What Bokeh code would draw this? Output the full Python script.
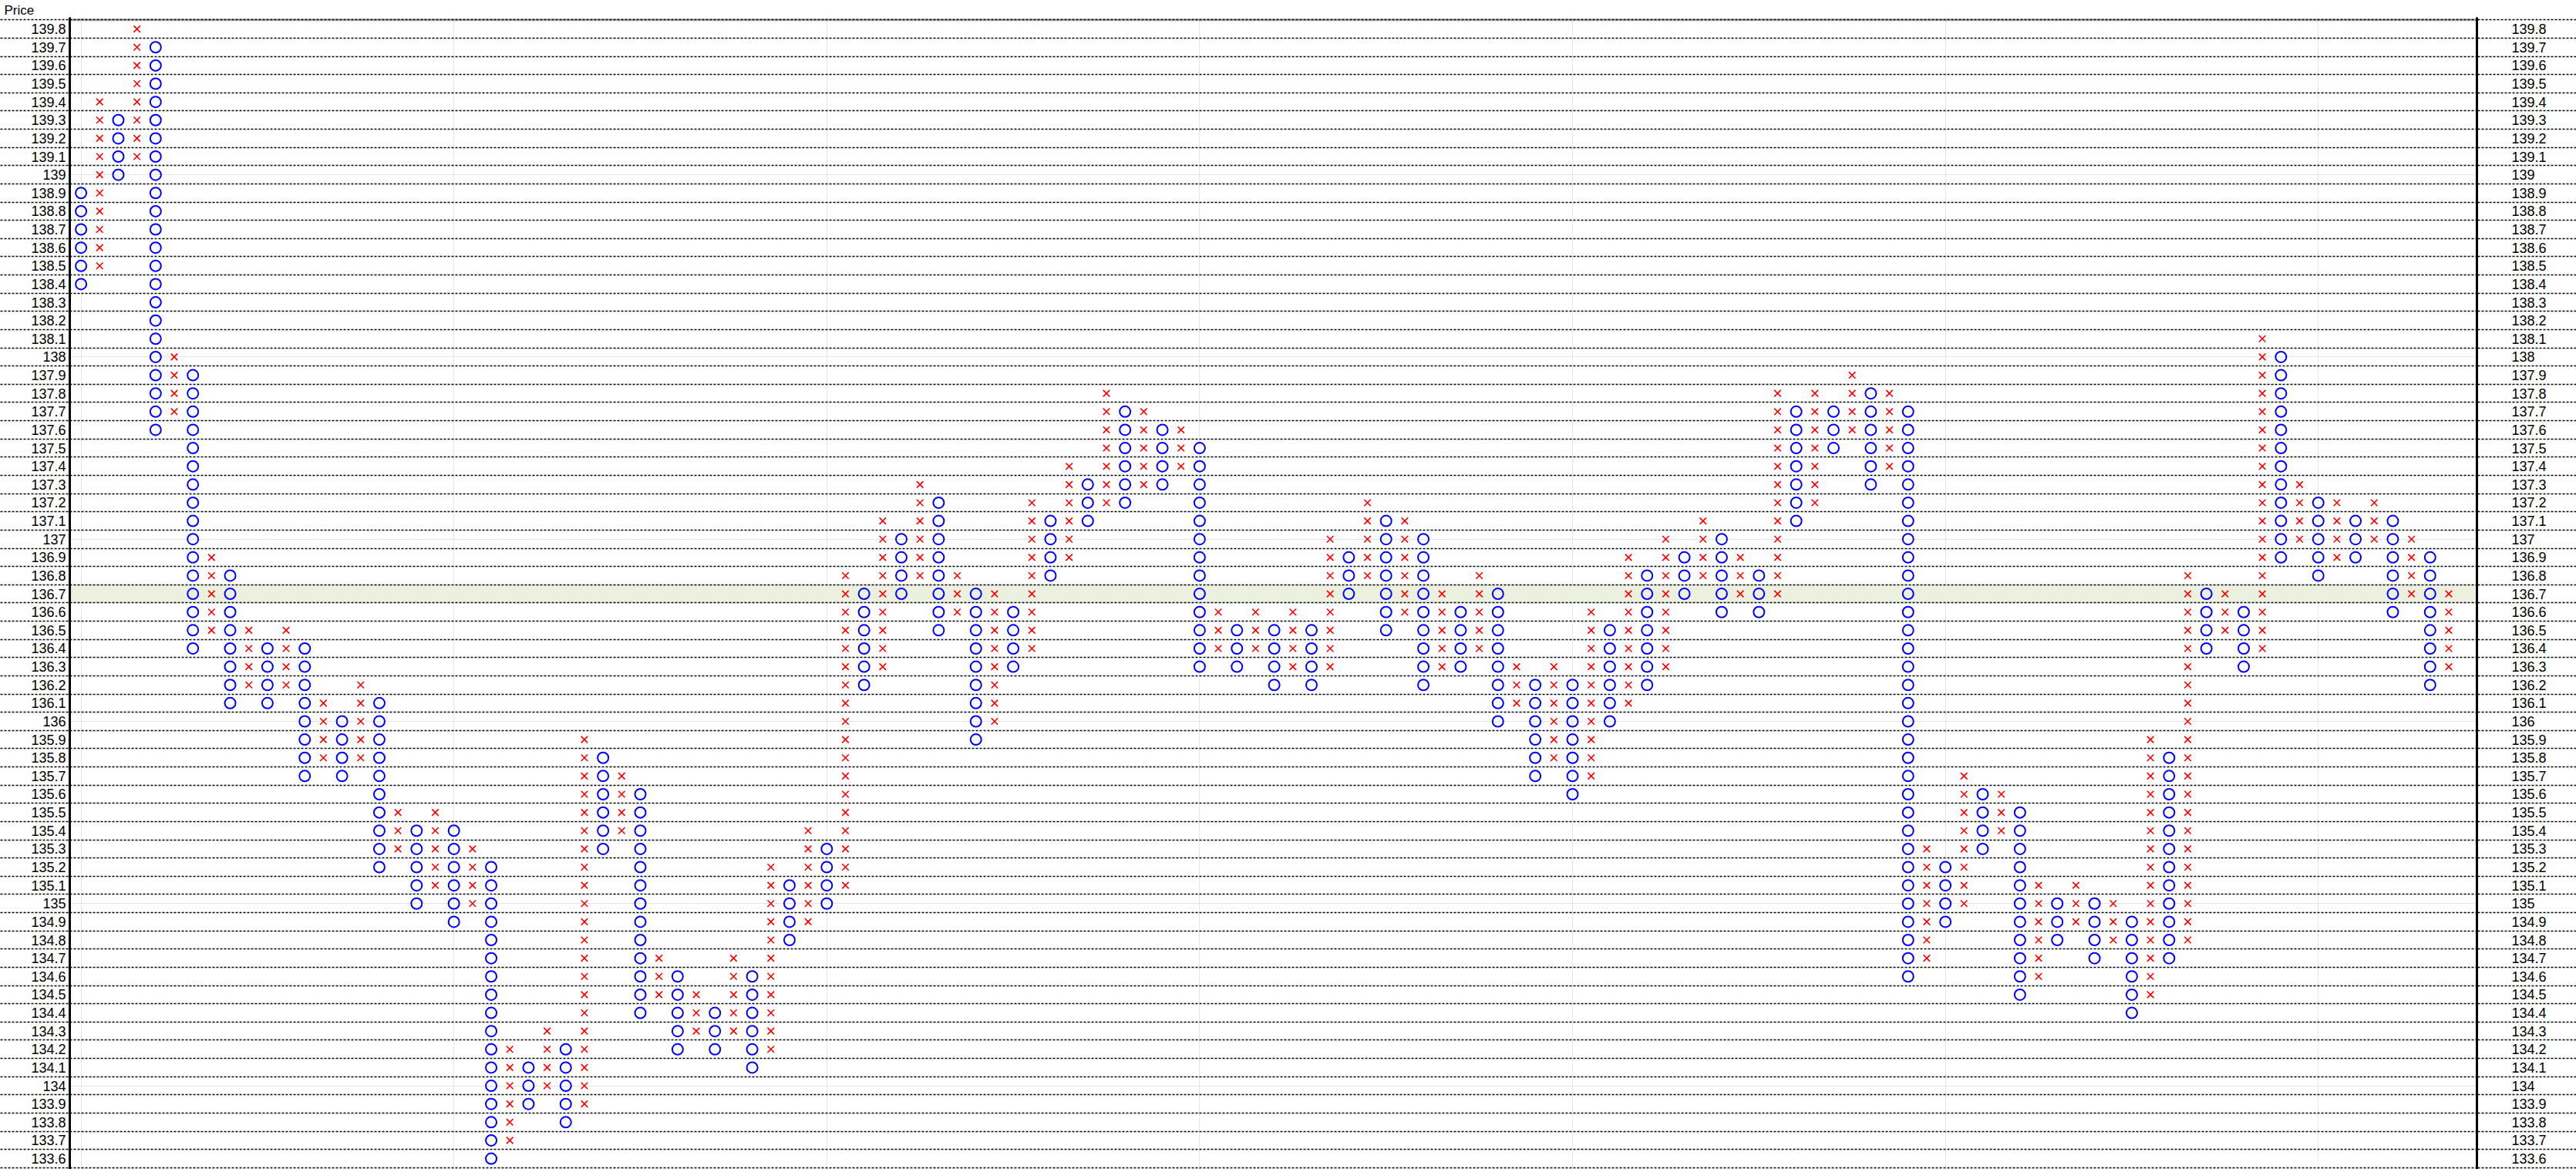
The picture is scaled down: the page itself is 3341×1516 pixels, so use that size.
import numpy as np
from bokeh.plotting import figure
from bokeh.models import (Range1d, LinearAxis, FixedTicker, Grid, ColumnDataSource,
                          NumeralTickFormatter, BoxAnnotation, Title)
from bokeh.embed import file_html
from bokeh.resources import INLINE

# ---------------- data (Point & Figure, box size 0.1) ----------------
box_size = 0.1
first_column_type = "O"
price_min = 133.6
price_max = 139.8
highlight_price = 136.7
axis_title = "Price"

column_top = [
    138.9, 139.4, 139.3, 139.8, 139.7, 138.0, 137.9, 136.9, 136.8, 136.5,
    136.4, 136.5, 136.4, 136.1, 136.0, 136.2, 136.1, 135.5, 135.4, 135.5,
    135.4, 135.3, 135.2, 134.2, 134.1, 134.3, 134.2, 135.9, 135.8, 135.7,
    135.6, 134.7, 134.6, 134.5, 134.4, 134.7, 134.6, 135.2, 135.1, 135.4,
    135.3, 136.8, 136.7, 137.1, 137.0, 137.3, 137.2, 136.8, 136.7, 136.7,
    136.6, 137.2, 137.1, 137.4, 137.3, 137.8, 137.7, 137.7, 137.6, 137.6,
    137.5, 136.6, 136.5, 136.6, 136.5, 136.6, 136.5, 137.0, 136.9, 137.2,
    137.1, 137.1, 137.0, 136.7, 136.6, 136.8, 136.7, 136.3, 136.2, 136.3,
    136.2, 136.6, 136.5, 136.9, 136.8, 137.0, 136.9, 137.1, 137.0, 136.9,
    136.8, 137.8, 137.7, 137.8, 137.7, 137.9, 137.8, 137.8, 137.7, 135.3,
    135.2, 135.7, 135.6, 135.6, 135.5, 135.1, 135.0, 135.1, 135.0, 135.0,
    134.9, 135.9, 135.8, 136.8, 136.7, 136.7, 136.6, 138.1, 138.0, 137.3,
    137.2, 137.2, 137.1, 137.2, 137.1, 137.0, 136.9, 136.7,
]
column_bottom = [
    138.4, 138.5, 139.0, 139.1, 137.6, 137.7, 136.4, 136.5, 136.1, 136.2,
    136.1, 136.2, 135.7, 135.8, 135.7, 135.8, 135.2, 135.3, 135.0, 135.1,
    134.9, 135.0, 133.6, 133.7, 133.9, 134.0, 133.8, 133.9, 135.3, 135.4,
    134.4, 134.5, 134.2, 134.3, 134.2, 134.3, 134.1, 134.2, 134.8, 134.9,
    135.0, 135.1, 136.2, 136.3, 136.7, 136.8, 136.5, 136.6, 135.9, 136.0,
    136.3, 136.4, 136.8, 136.9, 137.1, 137.2, 137.2, 137.3, 137.3, 137.4,
    136.3, 136.4, 136.3, 136.4, 136.2, 136.3, 136.2, 136.3, 136.7, 136.8,
    136.5, 136.6, 136.2, 136.3, 136.3, 136.4, 136.0, 136.1, 135.7, 135.8,
    135.6, 135.7, 136.0, 136.1, 136.2, 136.3, 136.7, 136.8, 136.6, 136.7,
    136.6, 136.7, 137.1, 137.2, 137.5, 137.6, 137.3, 137.4, 134.6, 134.7,
    134.9, 135.0, 135.3, 135.4, 134.5, 134.6, 134.8, 134.9, 134.7, 134.8,
    134.4, 134.5, 134.7, 134.8, 136.4, 136.5, 136.3, 136.4, 136.9, 137.0,
    136.8, 136.9, 136.9, 137.0, 136.6, 136.7, 136.2, 136.3,
]

# ---------------- expand columns into boxes ----------------
n_cols = len(column_top)
other = "X" if first_column_type == "O" else "O"
col_types = [first_column_type if i % 2 == 0 else other for i in range(n_cols)]

xs_x, ys_x, xs_o, ys_o = [], [], [], []
for i, (t, top, bot) in enumerate(zip(col_types, column_top, column_bottom)):
    n = int(round((top - bot) / box_size)) + 1
    for k in range(n):
        pr = round(bot + k * box_size, 1)
        if t == "X":
            xs_x.append(i); ys_x.append(pr)
        else:
            xs_o.append(i); ys_o.append(pr)

n_rows = int(round((price_max - price_min) / box_size)) + 1
prices = [round(price_min + k * box_size, 1) for k in range(n_rows)]
boundaries = [round(pr - box_size / 2, 2) for pr in prices] + [round(price_max + box_size / 2, 2)]

# ---------------- figure ----------------
W, H = 3341, 1516
LEFT_COL, RIGHT_COL, HEADER = 90, 129, 22
x_start, x_end = -0.604, n_cols + 0.51
y_top = price_max + box_size / 2
p = figure(width=W, height=H, output_backend="svg", toolbar_location=None, title=None,
           x_axis_location=None, y_axis_location=None,
           x_range=Range1d(x_start, x_end), y_range=Range1d(133.541, 139.864),
           min_border_left=LEFT_COL, min_border_right=RIGHT_COL,
           min_border_top=HEADER, min_border_bottom=0)
p.outline_line_color = None
p.background_fill_color = "white"
p.border_fill_color = "white"

# header cell text "Price" (title, moved to the top-left cell)
p.add_layout(Title(text=axis_title, align="left", offset=-(LEFT_COL - 5), standoff=0,
                   text_font="Liberation Sans", text_font_size="17px",
                   text_font_style="normal", text_color="black"), "above")

LABEL_FONT = "Liberation Sans"

ticker = FixedTicker(ticks=prices, minor_ticks=boundaries)
for side, tick_out, gap in (("left", LEFT_COL, 5), ("right", RIGHT_COL, 45)):
    ax = LinearAxis(ticker=ticker, formatter=NumeralTickFormatter(format="0.[0]"))
    ax.axis_line_width = 3
    ax.axis_line_color = "black"
    ax.major_tick_out = 0
    ax.major_tick_in = 0
    ax.major_tick_line_color = None
    ax.minor_tick_out = tick_out
    ax.minor_tick_in = 0
    ax.minor_tick_line_color = "black"
    ax.minor_tick_line_dash = "3 2"
    ax.minor_tick_line_width = 1.3
    ax.major_label_standoff = gap - tick_out
    ax.major_label_text_font = LABEL_FONT
    ax.major_label_text_font_size = "18px"
    ax.major_label_text_color = "black"
    p.add_layout(ax, side)

# highlighted row (across whole canvas)
p.add_layout(BoxAnnotation(left=0, right=W, left_units="canvas", right_units="canvas",
                           top=highlight_price + box_size / 2, bottom=highlight_price - box_size / 2,
                           fill_color="#EBF1DE", fill_alpha=1.0, line_color=None, level="underlay"))

grid = Grid(dimension=1, ticker=ticker, grid_line_color=None,
            minor_grid_line_color="black", minor_grid_line_dash="3 2", minor_grid_line_width=1.3)
p.add_layout(grid)

# thick header separator line
p.add_layout(BoxAnnotation(left=0, right=W, left_units="canvas", right_units="canvas",
                           top=y_top, bottom=y_top,
                           fill_color=None, line_color="black", line_width=3))
# vertical separators continue through the header row
for xv in (x_start, x_end):
    p.add_layout(BoxAnnotation(left=xv, right=xv, top=y_top + box_size * 1.2, bottom=y_top,
                               fill_color=None, line_color="black", line_width=3))

p.scatter(x="x", y="y", source=ColumnDataSource(dict(x=xs_x, y=ys_x)), marker="x",
          size=12, line_color="#FF0000", line_width=1.6)
p.scatter(x="x", y="y", source=ColumnDataSource(dict(x=xs_o, y=ys_o)), marker="circle",
          size=14, fill_color=None, line_color="#0000FF", line_width=2)

open("out.html", "w").write(file_html(p, INLINE))
